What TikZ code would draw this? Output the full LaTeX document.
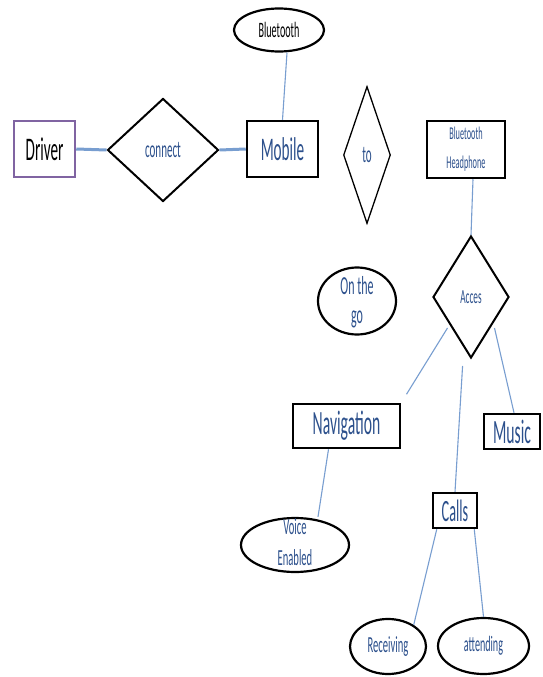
\documentclass[tikz,border=0pt]{standalone}
\usepackage{fontspec}
\usetikzlibrary{shapes.geometric}
\newfontfamily\nf[FakeStretch=0.46]{Carlito}
\definecolor{txtblue}{RGB}{44,80,140}
\definecolor{lnblue}{RGB}{120,158,208}
\definecolor{drvpurple}{RGB}{128,100,162}
\tikzset{
  entbox/.style={draw=black, line width=2.5pt, rectangle, inner sep=0pt, text=txtblue},
  attr/.style={draw=black, ellipse, line width=2.2pt, inner sep=0pt, text=txtblue},
  rel/.style={draw=black, diamond, line width=2pt, inner sep=0pt, text=txtblue},
  link/.style={lnblue, line width=1.1pt},
  boldlink/.style={lnblue, line width=3pt},
  fs/.style={font={\nf\fontsize{#1}{#1}\selectfont}}
}
\begin{document}
\begin{tikzpicture}[x=1pt,y=-1pt]
\useasboundingbox[fill=white] (0,0) rectangle (542,677);

% entities
\node[entbox, draw=drvpurple, text=black, minimum width=61pt, minimum height=56pt, fs=33] (driver) at (44.5,149) {Driver};
\node[entbox, minimum width=71pt, minimum height=56pt, fs=33] (mobile) at (282.5,149) {Mobile};
\node[entbox, minimum width=78pt, minimum height=57pt, align=center, font={\nf\fontsize{18}{29}\selectfont}] (bh) at (466,149.5) {Bluetooth\\Headphone};
\node[entbox, minimum width=107pt, minimum height=44pt, fs=34] (nav) at (346.5,426) {Navigation};
\node[entbox, minimum width=56pt, minimum height=35pt, fs=34] (music) at (512,431.5) {Music};
\node[entbox, minimum width=44pt, minimum height=35pt, fs=31] (calls) at (455,510.5) {Calls};

% relationships
\node[rel, minimum width=111pt, minimum height=103pt, fs=24] (connect) at (163,150) {connect};
\node[rel, line width=1.3pt, minimum width=47pt, minimum height=137pt, fs=24] (to) at (367,155) {to};
\node[rel, minimum width=76pt, minimum height=122pt, fs=20] (acces) at (471,297) {Acces};

% attributes
\node[attr, text=black, minimum width=90pt, minimum height=43pt, fs=22] (bt) at (279,30) {Bluetooth};
\node[attr, minimum width=78pt, minimum height=67pt, font={\nf\fontsize{26}{29}\selectfont}] (otg) at (357,301)
  {\smash{\raisebox{-8pt}{\begin{tabular}{@{}c@{}}On the\\go\end{tabular}}}};
\node[attr, minimum width=108pt, minimum height=54pt, font={\nf\fontsize{23}{31}\selectfont}] (voice) at (295,545)
  {\smash{\raisebox{-5pt}{\begin{tabular}{@{}c@{}}Voice\\Enabled\end{tabular}}}};
\node[attr, minimum width=76pt, minimum height=55pt, fs=23] (recv) at (388,646.5) {Receiving};
\node[attr, minimum width=91pt, minimum height=56pt, fs=22] (att) at (483.5,646) {attending};

% connectors
\draw[boldlink] (driver.east) -- (connect.west);
\draw[boldlink] (connect.east) -- (mobile.west);
\draw[link] ([xshift=8pt]bt.south) -- (mobile.north);
\draw[link] ([xshift=7pt]bh.south) -- (acces.north);
\draw[link, shorten >=10pt] ([xshift=-4pt]acces.south west) -- (nav.north east);
\draw[link] ([xshift=4pt]acces.south east) -- ([xshift=2pt]music.north);
\draw[link, shorten <=7pt] ([xshift=-8pt]acces.south) -- (calls.north);
\draw[link] ([xshift=-18pt]nav.south) -- ([xshift=23pt]voice.north);
\draw[link] ([xshift=5pt]calls.south west) -- (recv.40);
\draw[link] ([xshift=-4pt]calls.south east) -- (att.north);
\end{tikzpicture}
\end{document}
